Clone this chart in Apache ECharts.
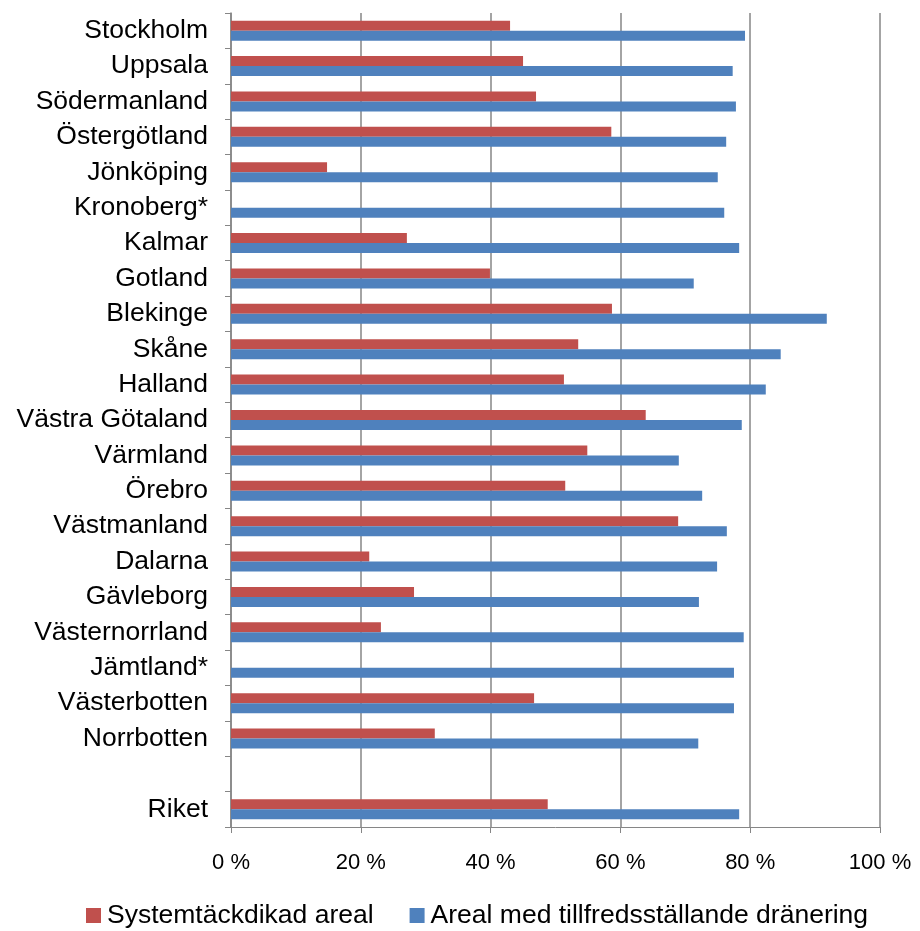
<!DOCTYPE html>
<html><head><meta charset="utf-8">
<script src="https://cdn.jsdelivr.net/npm/echarts@6/dist/echarts.min.js"></script>
<style>html,body{margin:0;padding:0;background:#fff}#c{width:920px;height:931px}</style>
</head><body><div id="c"></div>
<script>
const categories = ['Stockholm','Uppsala','Södermanland','Östergötland','Jönköping','Kronoberg*','Kalmar','Gotland','Blekinge','Skåne','Halland','Västra Götaland','Värmland','Örebro','Västmanland','Dalarna','Gävleborg','Västernorrland','Jämtland*','Västerbotten','Norrbotten','','Riket'];
const systemtackdikad = [43.0,45.0,47.0,58.6,14.8,null,27.1,39.9,58.7,53.5,51.3,63.9,54.9,51.5,68.9,21.3,28.2,23.1,null,46.7,31.4,null,48.8];
const tillfredsstallande = [79.2,77.3,77.8,76.3,75.0,76.0,78.3,71.3,91.8,84.7,82.4,78.7,69.0,72.6,76.4,74.9,72.1,79.0,77.5,77.5,72.0,null,78.3];
const xTicks = [0,20,40,60,80,100];
const seriesNames = ['Systemtäckdikad areal','Areal med tillfredsställande dränering'];

const chart = echarts.init(document.getElementById('c'));
chart.setOption({
  animation:false,
  textStyle:{fontFamily:'Liberation Sans, Arial, sans-serif'},
  grid:{left:231,right:40,top:13,bottom:104,containLabel:false},
  legend:{
    top:897,left:81,itemWidth:15,itemHeight:15,itemGap:36,
    icon:'rect',
    textStyle:{fontSize:26.5,color:'#000',fontFamily:'Liberation Sans, Arial, sans-serif',padding:[0,0,0,1]},
    data:seriesNames
  },
  xAxis:{
    type:'value',min:xTicks[0],max:xTicks[xTicks.length-1],interval:20,
    axisLine:{show:true,lineStyle:{color:'#868686',width:1}},
    axisTick:{show:true,length:6,lineStyle:{color:'#868686'}},
    axisLabel:{formatter:v=>v+' %',fontSize:22,color:'#000',margin:25},
    splitLine:{show:true,lineStyle:{color:'#868686',width:1.5}}
  },
  yAxis:{
    type:'category',data:categories,inverse:true,
    axisLine:{show:true,lineStyle:{color:'#868686',width:1.5}},
    axisTick:{show:true,length:6,lineStyle:{color:'#868686'}},
    axisLabel:{fontSize:26.5,color:'#000',margin:23},
    splitLine:{show:false}
  },
  series:[
    {name:seriesNames[0],type:'bar',data:systemtackdikad,barWidth:10,barGap:'0%',itemStyle:{color:'#C0504D'}},
    {name:seriesNames[1],type:'bar',data:tillfredsstallande,barWidth:10,barGap:'0%',itemStyle:{color:'#4F81BD'}}
  ]
});
</script></body></html>
